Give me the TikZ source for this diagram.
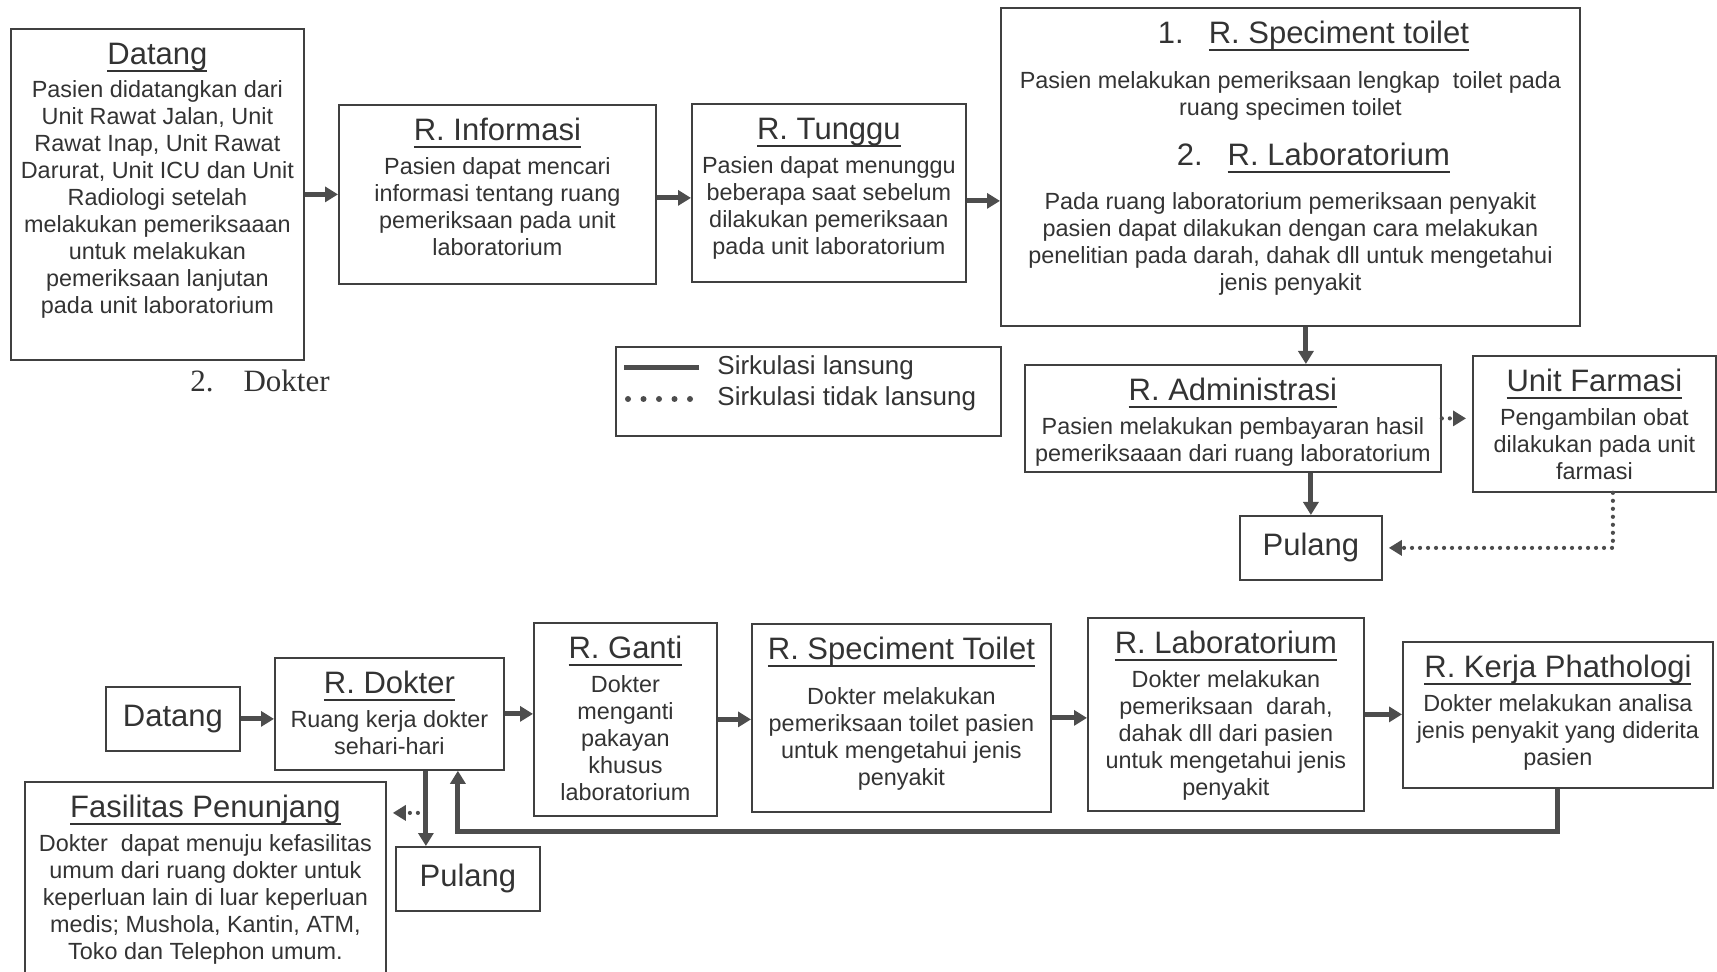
\documentclass[tikz,border=0pt]{standalone}
\usepackage{fontspec}
\setmainfont{Liberation Sans}
\newfontfamily\serifhead{Liberation Serif}
\usetikzlibrary{arrows.meta}
\definecolor{FlowInk}{HTML}{333333}
\definecolor{FlowFrame}{HTML}{404040}
\definecolor{FlowArrow}{HTML}{4D4D4D}

\newcommand\bodyfont{\fontsize{11.7}{13.5}\selectfont}
\newcommand\headfont{\fontsize{15.5}{18}\selectfont}
\newcommand\keyfont{\fontsize{13}{15}\selectfont}
\newcommand\roomul[1]{\setbox0\hbox{#1}\rlap{\rule[-3.6pt]{\wd0}{0.9pt}}\box0}
\newcommand\roomhead[2][3.25pt]{{\headfont\rule{0pt}{18pt}\roomul{#2}\par}\vspace{#1}}

\begin{document}
\begin{tikzpicture}[x=.5pt,y=-.5pt,text=FlowInk,
  room/.style 2 args={draw=FlowFrame,line width=.9pt,inner sep=0pt,anchor=north west,
    execute at begin node={\begin{minipage}[t][#2][t]{#1}\centering\bodyfont\lineskiplimit=-\maxdimen},
    execute at end node={\end{minipage}}},
  plainbox/.style 2 args={draw=FlowFrame,line width=.9pt,inner sep=0pt,anchor=north west,
    minimum width=#1,minimum height=#2,font=\headfont},
  flow/.style={draw=FlowArrow,line width=2.5pt,-{Triangle[length=6.5pt,width=7.5pt]}},
  dotflow/.style={draw=FlowArrow,line width=2.1pt,line cap=round,dash pattern=on 0pt off 4pt,
    -{Triangle[length=6.5pt,width=7.5pt]},shorten >=3pt},
  keytext/.style={anchor=west,inner sep=0pt,font=\keyfont}]
  \useasboundingbox (0,0) rectangle (1717,972);
  \clip (0,0) rectangle (1717,972);

  % pasien
  \node[room={146.5pt}{165.5pt}] (datangA) at (10,28) {\roomhead[3pt]{Datang}Pasien didatangkan dari\\Unit Rawat Jalan, Unit\\Rawat Inap, Unit Rawat\\Darurat, Unit ICU dan Unit\\Radiologi setelah\\melakukan pemeriksaaan\\untuk melakukan\\pemeriksaan lanjutan\\pada unit laboratorium};
  \node[room={158.5pt}{89.5pt}] (info) at (338,104) {\roomhead{R. Informasi}Pasien dapat mencari\\informasi tentang ruang\\pemeriksaan pada unit\\laboratorium};
  \node[room={137pt}{89pt}] (tunggu) at (691,103) {\roomhead{R. Tunggu}Pasien dapat menunggu\\beberapa saat sebelum\\dilakukan pemeriksaan\\pada unit laboratorium};
  \node[room={289.5pt}{159pt}] (labA) at (1000,7) {{\headfont\rule{0pt}{18pt}\hspace*{23pt}1.\hspace{12.5pt}\roomul{R. Speciment toilet}\par}\vspace{9pt}%
    Pasien melakukan pemeriksaan lengkap\ \ toilet pada\\ruang specimen toilet\par\vspace{7pt}%
    {\headfont\hspace*{23pt}2.\hspace{12.5pt}\roomul{R. Laboratorium}\par}\vspace{8.5pt}%
    Pada ruang laboratorium pemeriksaan penyakit\\pasien dapat dilakukan dengan cara melakukan\\penelitian pada darah, dahak dll untuk mengetahui\\jenis penyakit};
  \node[room={208pt}{53.5pt}] (admin) at (1024,364) {\roomhead{R. Administrasi}Pasien melakukan pembayaran hasil\\pemeriksaaan dari ruang laboratorium};
  \node[room={121.5pt}{68pt}] (farmasi) at (1472,355) {\roomhead{Unit Farmasi}Pengambilan obat\\dilakukan pada unit\\farmasi};
  \node[plainbox={71pt}{32pt}] (pulangA) at (1239,515) {Pulang};

  \draw[flow] (datangA) -- (datangA -| info.west);
  \draw[flow] ([yshift=-1.75pt]info.east) -- ([yshift=-1.75pt]info.east -| tunggu.west);
  \draw[flow] ([yshift=-4pt]tunggu.east) -- ([yshift=-4pt]tunggu.east -| labA.west);
  \draw[flow] ([xshift=7.75pt]labA.south) -- ([xshift=7.75pt]labA.south |- admin.north);
  \draw[flow] (pulangA.north |- admin.south) -- (pulangA);
  \draw[dotflow] (admin) -- (admin -| farmasi.west);
  \draw[dotflow] ([xshift=9.25pt]farmasi.south) |- (pulangA);

  % keterangan
  \node[plainbox={192.5pt}{44.5pt}] (key) at (615,346) {};
  \node[keytext] (keyA) at ([shift={(102,22)}]key.north west) {Sirkulasi lansung};
  \node[keytext] (keyB) at ([shift={(102,53)}]key.north west) {Sirkulasi tidak lansung};
  \draw[FlowArrow,line width=2.5pt] ([xshift=-9pt]keyA.west) -- ++(-75,0);
  \draw[FlowArrow,line width=3pt,line cap=round,dash pattern=on 0pt off 7.75pt] ([xshift=-13.5pt]keyB.west) -- ++(-62.4,0);

  % dokter
  \node[font=\serifhead\headfont] (partB) at (260,381) {2.\hspace{15pt}Dokter};
  \node[plainbox={67pt}{32pt}] (datangB) at (105,686) {Datang};
  \node[room={114.5pt}{56pt}] (dokter) at (274,657) {\roomhead{R. Dokter}Ruang kerja dokter\\sehari-hari};
  \node[room={91.5pt}{96.5pt}] (ganti) at (533,622) {\roomhead{R. Ganti}Dokter\\menganti\\pakayan\\khusus\\laboratorium};
  \node[room={149.5pt}{94pt}] (toilet) at (751,623) {\roomhead[9pt]{R. Speciment Toilet}Dokter melakukan\\pemeriksaan toilet pasien\\untuk mengetahui jenis\\penyakit};
  \node[room={138pt}{96.5pt}] (labB) at (1087,617) {\roomhead{R. Laboratorium}Dokter melakukan\\pemeriksaan\ \ darah,\\dahak dll dari pasien\\untuk mengetahui jenis\\penyakit};
  \node[room={155pt}{73pt}] (patologi) at (1402,641) {\roomhead{R. Kerja Phathologi}Dokter melakukan analisa\\jenis penyakit yang diderita\\pasien};
  \node[room={180.5pt}{100pt}] (fasilitas) at (24,781) {\roomhead{Fasilitas Penunjang}Dokter\ \ dapat menuju kefasilitas\\umum dari ruang dokter untuk\\keperluan lain di luar keperluan\\medis; Mushola, Kantin, ATM,\\Toko dan Telephon umum.};
  \node[plainbox={72pt}{32pt}] (pulangB) at (395,846) {Pulang};

  \draw[flow] (datangB) -- (datangB -| dokter.west);
  \draw[flow] (dokter) -- (dokter -| ganti.west);
  \draw[flow] (ganti) -- (ganti -| toilet.west);
  \draw[flow] (toilet) -- (toilet -| labB.west);
  \draw[flow] (labB) -- (labB -| patologi.west);
  \draw[flow] (patologi.south) |- ([xshift=34.25pt,yshift=-30.5pt]dokter.south) -- ([xshift=34.25pt]dokter.south);
  \draw[flow] ([xshift=18.25pt]dokter.south) -- coordinate[pos=.56] (split) ([xshift=18.25pt]dokter.south |- pulangB.north);
  \draw[dotflow] (split) -- (split -| fasilitas.east);
\end{tikzpicture}
\end{document}
